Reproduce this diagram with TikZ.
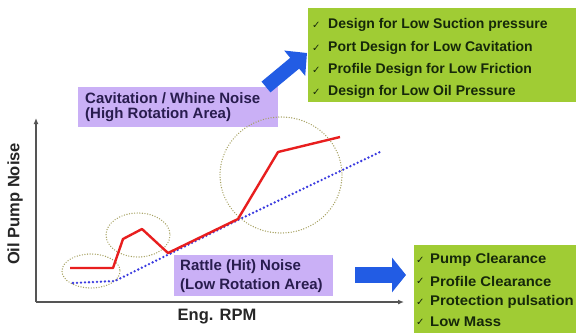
\documentclass[tikz,border=0pt]{standalone}
\usepackage{fontspec}
\setmainfont{Liberation Sans}
\newfontfamily\symfont{DejaVu Sans}
\newfontfamily\wideB[FakeStretch=1.06]{Liberation Sans}
\usetikzlibrary{arrows.meta}
\definecolor{boxgreen}{RGB}{160,204,52}
\definecolor{boxpurple}{RGB}{202,176,246}
\definecolor{arrowblue}{RGB}{34,92,228}
\definecolor{curvered}{RGB}{232,30,30}
\definecolor{dotblue}{RGB}{58,58,224}
\definecolor{ringcol}{RGB}{165,160,95}
\definecolor{axisgray}{RGB}{85,85,85}
\definecolor{greentext}{RGB}{22,40,10}
\definecolor{purpletext}{RGB}{40,28,78}
\begin{document}
\begin{tikzpicture}[x=1pt,y=-1pt,
  greenbox/.style={fill=boxgreen, draw=none, rectangle, inner sep=0pt, anchor=north west},
  purplebox/.style={fill=boxpurple, draw=none, rectangle, inner sep=0pt, anchor=north west},
  gline/.style={anchor=west, inner sep=0pt, text=greentext, font=\bfseries\fontsize{14}{15}\selectfont},
  gline2/.style={anchor=west, inner sep=0pt, text=greentext, font=\wideB\bfseries\fontsize{14}{15}\selectfont},
  gcheck/.style={anchor=west, inner sep=0pt, text=greentext, font=\symfont\bfseries\fontsize{10}{11}\selectfont},
  pline/.style={anchor=west, inner sep=0pt, text=purpletext, font=\bfseries\fontsize{15}{16}\selectfont},
  axislabel/.style={inner sep=0pt, text=black!85, font=\bfseries\fontsize{16.5}{17}\selectfont},
  axisline/.style={draw=axisgray, line width=1.6pt, -{Latex[length=6pt,width=5pt]}},
  ring/.style={draw=ringcol, line width=1.4pt, line cap=round, dash pattern=on 0pt off 2.6pt},
  redcurve/.style={draw=curvered, line width=2.4pt, line join=round},
  bluedots/.style={draw=dotblue, line width=2.6pt, line cap=round, dash pattern=on 0pt off 4pt},
  fatarrow/.style={draw=arrowblue, line width=14pt, -{Triangle[length=16pt,width=32pt]}}
]
\useasboundingbox (0,0) rectangle (576,333);
\fill[white] (0,0) rectangle (576,333);

% green boxes
\node[greenbox, minimum width=268pt, minimum height=94pt] (g1) at (308,8) {};
\node[greenbox, minimum width=162pt, minimum height=88pt] (g2) at (414,245) {};

\node[gcheck] (c1a) at (312,25) {✓};
\node[gline] (t1a) at (328,25) {Design for Low Suction pressure};
\node[gcheck] (c1b) at (312,48) {✓};
\node[gline] (t1b) at (328,48) {Port Design for Low Cavitation};
\node[gcheck] (c1c) at (312,70) {✓};
\node[gline] (t1c) at (328,70) {Profile Design for Low Friction};
\node[gcheck] (c1d) at (312,92) {✓};
\node[gline] (t1d) at (328,92) {Design for Low Oil Pressure};

\node[gcheck] (c2a) at (416,260) {✓};
\node[gline2] (t2a) at (430,260) {Pump Clearance};
\node[gcheck] (c2b) at (416,281) {✓};
\node[gline2] (t2b) at (430,281) {Profile Clearance};
\node[gcheck] (c2c) at (416,302) {✓};
\node[gline2] (t2c) at (430,302) {Protection pulsation};
\node[gcheck] (c2d) at (416,322) {✓};
\node[gline2] (t2d) at (430,322) {Low Mass};

% purple boxes
\node[purplebox, minimum width=200pt, minimum height=40pt] (p1) at (78,87) {};
\node[pline] (p1a) at (85,98) {Cavitation / Whine Noise};
\node[pline] (p1b) at (85,115) {(High Rotation Area)};
\node[purplebox, minimum width=159pt, minimum height=41pt] (p2) at (174,255) {};
\node[pline] (p2a) at (180,267) {Rattle (Hit) Noise};
\node[pline] (p2b) at (180,286) {(Low Rotation Area)};

% fat blue arrows
\coordinate (a1s) at (266,87);
\coordinate (a1e) at (307,53);
\draw[fatarrow] (a1s) -- (a1e);
\coordinate (a2s) at (355,275);
\coordinate (a2e) at (406,275);
\draw[fatarrow, line width=16pt, -{Triangle[length=14pt,width=34pt]}] (a2s) -- (a2e);

% axes
\coordinate (O) at (36,302);
\coordinate (ytop) at (36,118);
\coordinate (xend) at (404,302);
\draw[axisline] (O) -- (ytop);
\draw[axisline] (O) -- (xend);
\node[axislabel, rotate=90] (ylab) at (15,204) {Oil Pump Noise};
\node[axislabel] (xlab) at (217,317) {Eng. RPM};

% rings
\draw[ring] (91,271) ellipse [x radius=29, y radius=17];
\draw[ring] (138,235) ellipse [x radius=32, y radius=22];
\draw[ring] (281,175) ellipse [x radius=61, y radius=58];

% curves
\draw[bluedots] (73,283) -- (115,281) -- (238,220) -- (380,152);
\draw[redcurve] (70,268) -- (113,268) -- (123,239) -- (142,229) -- (168,253) -- (238,219) -- (278,152) -- (340,137);
\end{tikzpicture}
\end{document}
